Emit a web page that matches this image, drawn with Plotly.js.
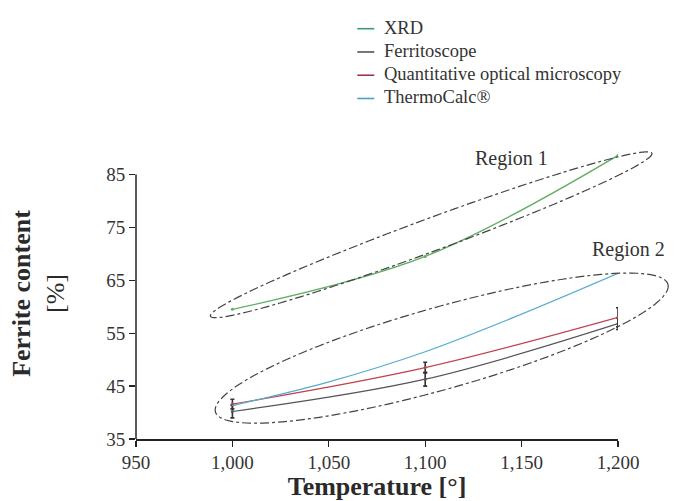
<!DOCTYPE html>
<html>
<head>
<meta charset="utf-8">
<script src="https://cdn.plot.ly/plotly-3.0.1.min.js"></script>
<style>html,body{margin:0;padding:0;background:#fff;}#chart{width:692px;height:501px;}</style>
</head>
<body>
<div id="chart"></div>
<script>
// ---- data ----
const temps = [1000, 1100, 1200];
const xrd = [59.5, 69.5, 88.6];
const ferritoscope = [40.2, 46.3, 56.8];
const ferritoscopeErr = [1.2, 1.3, 1.1];
const optical = [41.6, 48.5, 58.0];
const opticalErr = [0.9, 1.0, 1.8];
const tcTemps = [1000, 1050, 1100, 1150, 1200];
const thermocalc = [41.3, 45.8, 51.5, 58.6, 66.3];
const seriesNames = ['XRD', 'Ferritoscope', 'Quantitative optical microscopy', 'ThermoCalc®'];
const xTicks = [950, 1000, 1050, 1100, 1150, 1200];
const yTicks = [35, 45, 55, 65, 75, 85];
const regionLabels = ['Region 1', 'Region 2'];

// ---- layout geometry ----
const W = 692, H = 501;
const M = {l: 135.5, r: 74, t: 147.5, b: 62};
const pw = W - M.l - M.r, ph = H - M.t - M.b;
const xr = [950, 1200], yr = [35, 90];
const serif = 'Liberation Serif, Times New Roman, serif';

function toPx(x, y) {
  return [M.l + (x - xr[0]) / (xr[1] - xr[0]) * pw, M.t + (yr[1] - y) / (yr[1] - yr[0]) * ph];
}
function pxToPaper(px, py) {
  return [(px - M.l) / pw, 1 - (py - M.t) / ph];
}
function ellipsePath(p1, p2, halfW) {
  const a1 = toPx(p1[0], p1[1]), a2 = toPx(p2[0], p2[1]);
  const cx = (a1[0] + a2[0]) / 2, cy = (a1[1] + a2[1]) / 2;
  const dx = a2[0] - a1[0], dy = a2[1] - a1[1];
  const a = Math.hypot(dx, dy) / 2, ang = Math.atan2(dy, dx);
  let d = '';
  for (let i = 0; i <= 144; i++) {
    const t = i / 144 * 2 * Math.PI;
    const ex = a * Math.cos(t), ey = halfW * Math.sin(t);
    const px = cx + ex * Math.cos(ang) - ey * Math.sin(ang);
    const py = cy + ex * Math.sin(ang) + ey * Math.cos(ang);
    const p = pxToPaper(px, py);
    d += (i === 0 ? 'M' : 'L') + p[0].toFixed(5) + ',' + p[1].toFixed(5);
  }
  return d + 'Z';
}

const colors = {xrd: '#5fae62', ferr: '#555555', opt: '#c0404e', tc: '#56add0'};
const legendColors = ['#3f9a78', '#555555', '#9a3848', '#4aa3bd'];

const traces = [
  {x: temps, y: xrd, name: seriesNames[0], type: 'scatter', mode: 'lines+markers',
   line: {color: colors.xrd, width: 1.3, shape: 'spline'}, marker: {size: 3, color: colors.xrd}},
  {x: temps, y: ferritoscope, name: seriesNames[1], type: 'scatter', mode: 'lines+markers',
   line: {color: colors.ferr, width: 1.2, shape: 'spline'}, marker: {size: 3, color: colors.ferr},
   error_y: {type: 'data', array: ferritoscopeErr, visible: true, color: '#333', thickness: 1.6, width: 2}},
  {x: temps, y: optical, name: seriesNames[2], type: 'scatter', mode: 'lines+markers',
   line: {color: colors.opt, width: 1.2, shape: 'spline'}, marker: {size: 3, color: colors.opt},
   error_y: {type: 'data', array: opticalErr, visible: true, color: '#333', thickness: 1.6, width: 2}},
  {x: tcTemps, y: thermocalc, name: seriesNames[3], type: 'scatter', mode: 'lines',
   line: {color: colors.tc, width: 1.2, shape: 'spline'}}
];

const r2lab = pxToPaper.apply(null, toPx(1205.7, 70.85));

// manual legend (rows above the plot)
const legShapes = [], legAnn = [];
const legLineX = [357, 374], legTextX = 382, legTop = 27, legStep = 23.3;
seriesNames.forEach((name, i) => {
  const yy = legTop + i * legStep;
  const p0 = pxToPaper(legLineX[0], yy + 1), p1 = pxToPaper(legLineX[1], yy + 1);
  legShapes.push({type: 'line', xref: 'paper', yref: 'paper', x0: p0[0], x1: p1[0], y0: p0[1], y1: p1[1],
                  line: {color: legendColors[i], width: 1.6}});
  const pt = pxToPaper(legTextX, yy);
  legAnn.push({x: pt[0], y: pt[1], xref: 'paper', yref: 'paper', text: name, showarrow: false,
               xanchor: 'left', yanchor: 'middle', font: {family: serif, size: 18.5, color: '#333'}});
});

const layout = {
  width: W, height: H,
  margin: {l: M.l, r: M.r, t: M.t, b: M.b, pad: 0},
  paper_bgcolor: '#fff', plot_bgcolor: '#fff',
  font: {family: serif, color: '#333', size: 19},
  showlegend: false,
  xaxis: {range: xr, tickvals: xTicks, tickformat: ',d', showgrid: false, zeroline: false,
          showline: true, linecolor: '#222', linewidth: 1.5, ticks: 'outside', ticklen: 6,
          tickwidth: 1.3, tickcolor: '#222', tickfont: {family: serif, size: 19, color: '#333'},
          title: {text: '<b>Temperature [°]</b>', font: {family: serif, size: 26, color: '#2a2a2a'}, standoff: 2}},
  yaxis: {range: yr, tickvals: yTicks, showgrid: false, zeroline: false, showline: false,
          ticks: 'outside', ticklen: 6, tickwidth: 1.3, tickcolor: '#222',
          tickfont: {family: serif, size: 19, color: '#333'},
          title: {text: '<b>Ferrite content</b><br>[%]', font: {family: serif, size: 26, color: '#2a2a2a'}, standoff: 34}},
  shapes: [
    {type: 'line', xref: 'paper', yref: 'y', x0: 0, x1: 0, y0: 35, y1: 85, line: {color: '#222', width: 1.5}},
    {type: 'path', xref: 'paper', yref: 'paper', path: ellipsePath([988.6, 58.2], [1217.6, 89.0], 16.4),
     line: {color: '#444', width: 1.2, dash: 'dashdot'}},
    {type: 'path', xref: 'paper', yref: 'paper', path: ellipsePath([991.2, 40.1], [1225.9, 64.25], 41),
     line: {color: '#444', width: 1.2, dash: 'dashdot'}}
  ].concat(legShapes),
  annotations: [
    {x: 1144.6, y: 88.0, xref: 'x', yref: 'y', text: regionLabels[0], showarrow: false,
     xanchor: 'center', yanchor: 'middle', font: {family: serif, size: 20, color: '#333'}},
    {x: r2lab[0], y: r2lab[1], xref: 'paper', yref: 'paper', text: regionLabels[1], showarrow: false,
     xanchor: 'center', yanchor: 'middle', font: {family: serif, size: 20, color: '#333'}}
  ].concat(legAnn)
};

Plotly.newPlot('chart', traces, layout, {displayModeBar: false, staticPlot: true});
</script>
</body>
</html>
